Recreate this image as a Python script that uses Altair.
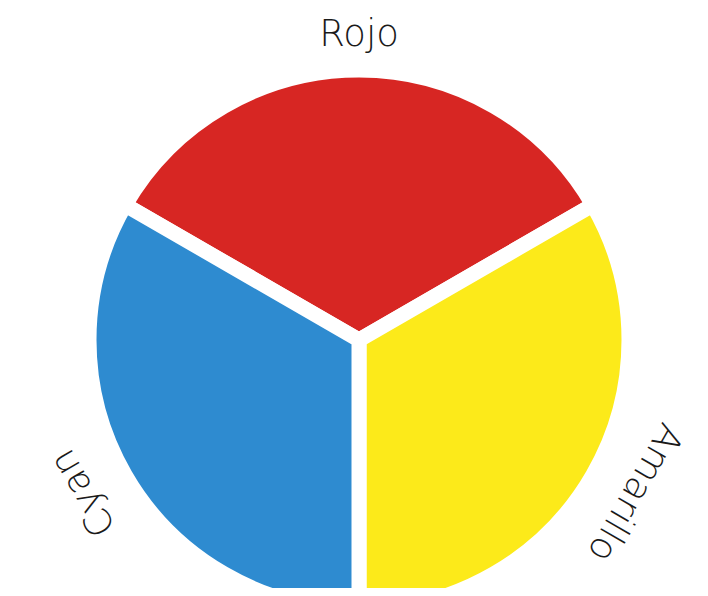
import math
import altair as alt
import pandas as pd

categories = ["Rojo", "Amarillo", "Cyan"]
values = [1, 1, 1]
orders = [1, 2, 3]
colors = ["#D72623", "#FCEA1A", "#2E8BD0"]

df = pd.DataFrame({"cat": categories, "value": values, "order": orders})

theta_scale = alt.Scale(range=[-math.pi / 3, 5 * math.pi / 3])
color_scale = alt.Scale(domain=categories, range=colors)

pie = (
    alt.Chart(df)
    .mark_arc(radius=270, stroke="white", strokeWidth=15)
    .encode(
        theta=alt.Theta("value:Q", stack=True, scale=theta_scale),
        order=alt.Order("order:Q"),
        color=alt.Color("cat:N", scale=color_scale, legend=None),
    )
)

# labels sit on a slightly wider ellipse around the wheel, tangent to it
labels = (
    alt.Chart(df)
    .transform_window(cum="sum(value)", sort=[alt.SortField("order")])
    .transform_joinaggregate(total="sum(value)")
    .transform_calculate(ang="360*(datum.cum - datum.value/2)/datum.total - 60")
    .transform_calculate(rad="datum.ang*PI/180")
    .transform_calculate(lx="318*sin(datum.rad)", ly="305*cos(datum.rad)")
    .transform_calculate(
        lt="atan2(datum.lx, datum.ly)", lr="sqrt(datum.lx*datum.lx + datum.ly*datum.ly)"
    )
    .mark_text(font="DejaVu Sans", fontWeight=200, fontSize=37, color="#1a1a1a",
               baseline="middle", align="center")
    .encode(
        theta=alt.Theta("lt:Q", scale=None, stack=None),
        radius=alt.Radius("lr:Q", scale=None),
        text="cat:N",
        angle=alt.Angle("ang:Q", scale=None),
    )
)

chart = (
    alt.layer(pie, labels)
    .properties(
        width=682,
        height=496,
        autosize=alt.AutoSizeParams(type="none"),
        padding={"top": 84, "left": 10, "right": 0, "bottom": 0},
    )
    .configure_view(stroke=None)
)

chart.save("out.html", embed_options={"renderer": "svg", "actions": False})
